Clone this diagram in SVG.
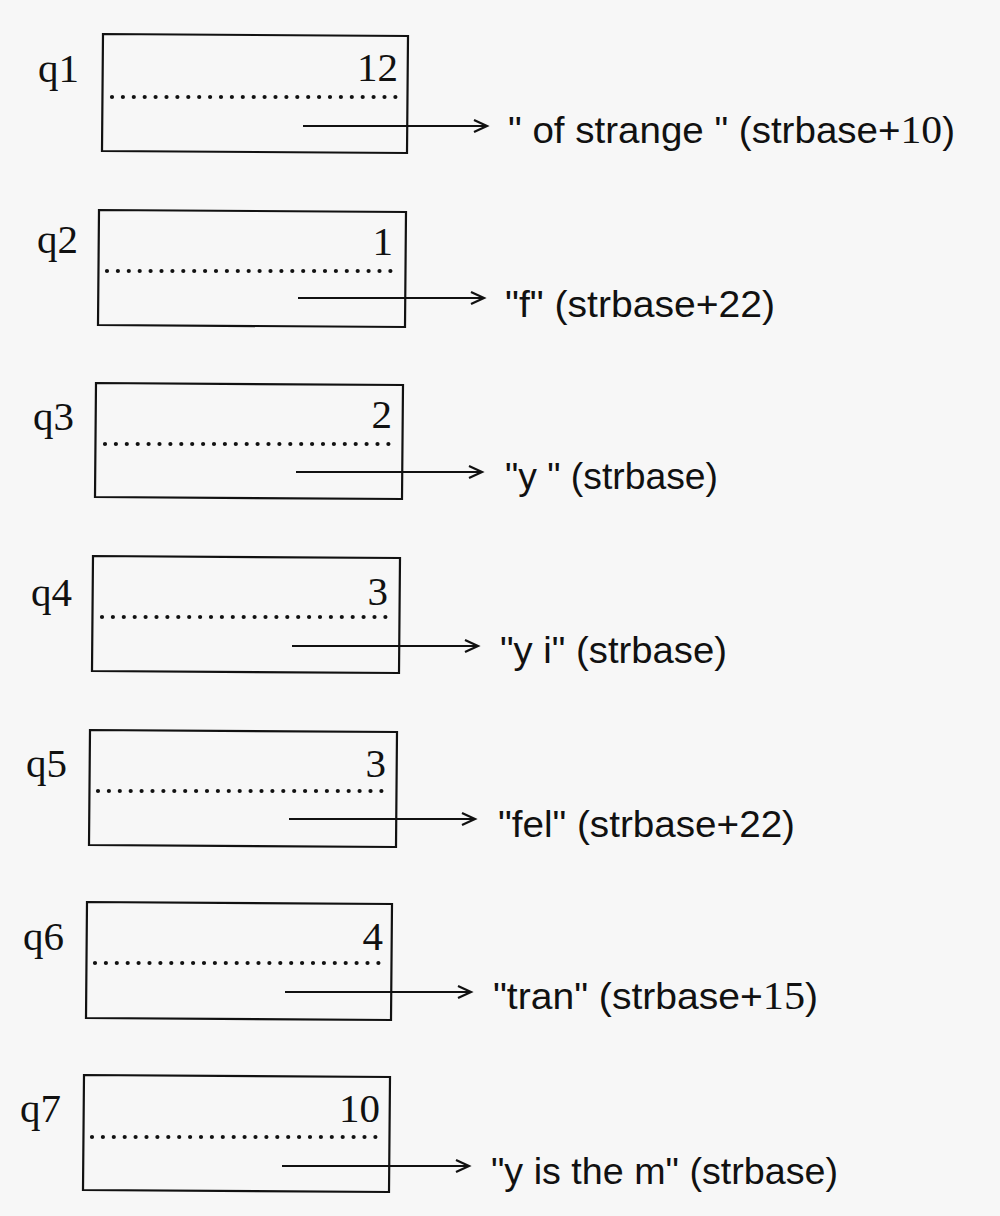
<svg xmlns="http://www.w3.org/2000/svg" width="1000" height="1216" viewBox="0 0 1000 1216">
<style>
.bg{fill:#f7f7f7}
.box{fill:none;stroke:#111;stroke-width:2.2}
.dot{stroke:#111;stroke-width:4.2;stroke-linecap:round;stroke-dasharray:0 10.9;fill:none}
.lbl{font-family:"Liberation Serif","Times New Roman",serif;font-size:41px;fill:#111}
.txt{font-family:"Liberation Sans",Arial,sans-serif;font-size:37px;fill:#111}
.ser{font-family:"Liberation Serif","Times New Roman",serif;font-size:40px}
.arr{stroke:#111;stroke-width:2.2;fill:none}
.head{stroke:#111;stroke-width:2.2;fill:none;stroke-linejoin:miter}
</style>
<rect class="bg" x="0" y="0" width="1000" height="1216"/>
<g id="q1">
<text class="lbl" x="38" y="82">q1</text>
<polygon class="box" points="103,34 408,36 407,153 102,151"/>
<text class="lbl" x="398" y="81" text-anchor="end">12</text>
<line class="dot" x1="112" y1="97" x2="399" y2="97"/>
<text class="txt" x="508" y="143" textLength="447" lengthAdjust="spacingAndGlyphs">" of strange " (strbase+<tspan class="ser">10</tspan>)</text>
</g>
<g id="q2">
<text class="lbl" x="37" y="253">q2</text>
<polygon class="box" points="99,210 406,212 405,327 98,325"/>
<text class="lbl" x="393" y="255" text-anchor="end">1</text>
<line class="dot" x1="107" y1="271" x2="397" y2="271"/>
<text class="txt" x="505" y="317" textLength="270" lengthAdjust="spacingAndGlyphs">"f" (strbase+22)</text>
</g>
<g id="q3">
<text class="lbl" x="33" y="430">q3</text>
<polygon class="box" points="96,383 403,385 402,499 95,497"/>
<text class="lbl" x="392" y="428" text-anchor="end">2</text>
<line class="dot" x1="105" y1="444" x2="393" y2="444"/>
<text class="txt" x="505" y="489" textLength="213" lengthAdjust="spacingAndGlyphs">"y " (strbase)</text>
</g>
<g id="q4">
<text class="lbl" x="31" y="606">q4</text>
<polygon class="box" points="93,556 400,558 399,673 92,671"/>
<text class="lbl" x="388" y="605" text-anchor="end">3</text>
<line class="dot" x1="102" y1="617" x2="390" y2="617"/>
<text class="txt" x="500" y="663" textLength="227" lengthAdjust="spacingAndGlyphs">"y i" (strbase)</text>
</g>
<g id="q5">
<text class="lbl" x="26" y="777">q5</text>
<polygon class="box" points="90,730 397,732 396,847 89,845"/>
<text class="lbl" x="386" y="777" text-anchor="end">3</text>
<line class="dot" x1="98" y1="791" x2="388" y2="791"/>
<text class="txt" x="498" y="837" textLength="297" lengthAdjust="spacingAndGlyphs">"fel" (strbase+22)</text>
</g>
<g id="q6">
<text class="lbl" x="23" y="950">q6</text>
<polygon class="box" points="87,902 392,904 391,1020 86,1018"/>
<text class="lbl" x="383" y="950" text-anchor="end">4</text>
<line class="dot" x1="95" y1="963" x2="385" y2="963"/>
<text class="txt" x="493" y="1009" textLength="325" lengthAdjust="spacingAndGlyphs">"tran" (strbase+<tspan class="ser">15</tspan>)</text>
</g>
<g id="q7">
<text class="lbl" x="20" y="1122">q7</text>
<polygon class="box" points="84,1075 390,1077 389,1192 83,1190"/>
<text class="lbl" x="380" y="1122" text-anchor="end">10</text>
<line class="dot" x1="92" y1="1137" x2="382" y2="1137"/>
<text class="txt" x="491" y="1184" textLength="347" lengthAdjust="spacingAndGlyphs">"y is the m" (strbase)</text>
</g>
<g id="connectors">
<line class="arr" x1="303" y1="126" x2="487" y2="126"/><polyline class="head" points="474,120 487,126 474,132"/>
<line class="arr" x1="298" y1="298" x2="484" y2="298"/><polyline class="head" points="471,292 484,298 471,304"/>
<line class="arr" x1="296" y1="472" x2="482" y2="472"/><polyline class="head" points="469,466 482,472 469,478"/>
<line class="arr" x1="292" y1="646" x2="478" y2="646"/><polyline class="head" points="465,640 478,646 465,652"/>
<line class="arr" x1="289" y1="819" x2="475" y2="819"/><polyline class="head" points="462,813 475,819 462,825"/>
<line class="arr" x1="285" y1="992" x2="471" y2="992"/><polyline class="head" points="458,986 471,992 458,998"/>
<line class="arr" x1="282" y1="1166" x2="469" y2="1166"/><polyline class="head" points="456,1160 469,1166 456,1172"/>
</g>
</svg>
